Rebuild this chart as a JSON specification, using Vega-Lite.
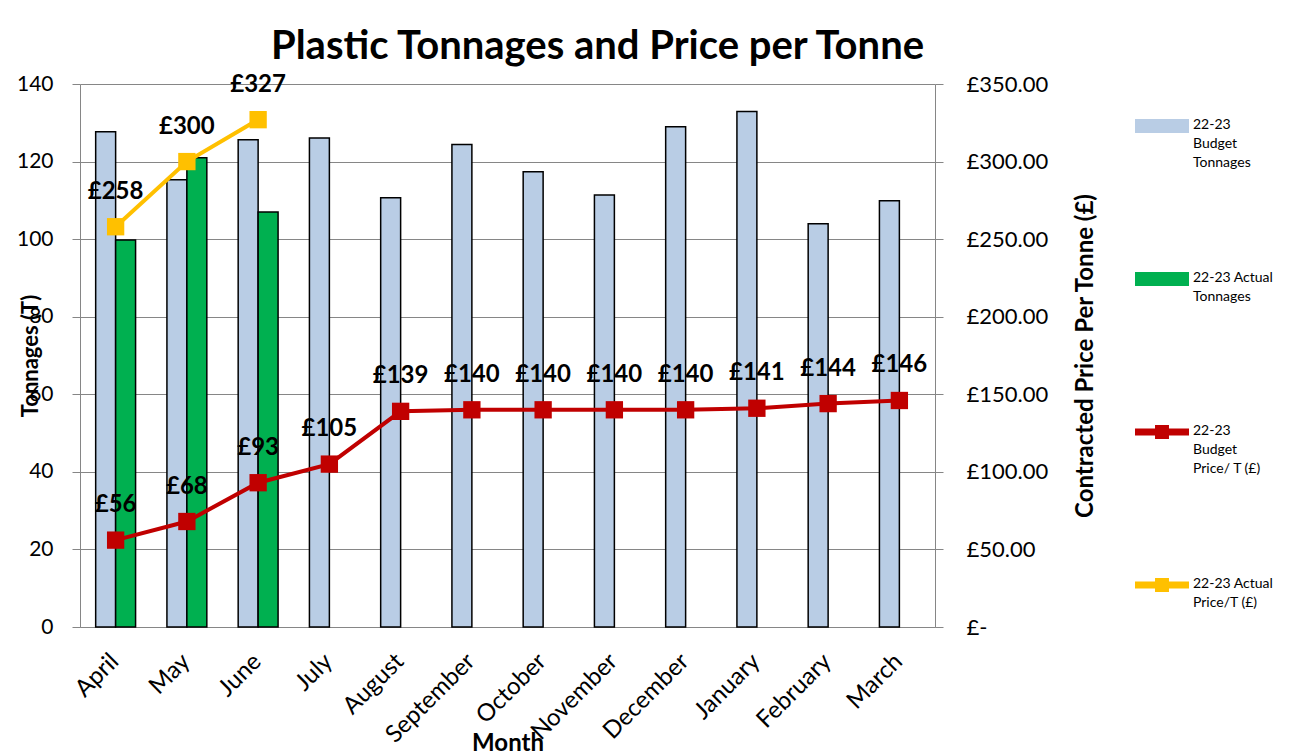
{
  "$schema": "https://vega.github.io/schema/vega-lite/v6.json",
  "width": 855,
  "height": 543,
  "autosize": {"type": "none"},
  "padding": {"left": 80, "top": 84, "right": 358, "bottom": 129},
  "background": "white",
  "config": {
    "font": "Lato",
    "view": {"stroke": null},
    "locale": {"number": {"decimal": ".", "thousands": ",", "grouping": [3], "currency": ["£", ""]}},
    "axis": {"labelColor": "black", "titleColor": "black", "domainColor": "#868686", "tickColor": "#868686", "gridColor": "#868686", "labelFont": "Lato", "titleFont": "Lato"}
  },
  "title": {"text": "Plastic Tonnages and Price per Tonne", "fontSize": 40, "fontWeight": "bold", "font": "Lato", "anchor": "middle", "dx": 90, "dy": 48, "offset": 22, "baseline": "alphabetic", "color": "black"},
  "datasets": {
    "tonnes": [
      {"month": "April", "series": "22-23 Budget Tonnages", "value": 127.7},
      {"month": "May", "series": "22-23 Budget Tonnages", "value": 115.3},
      {"month": "June", "series": "22-23 Budget Tonnages", "value": 125.6},
      {"month": "July", "series": "22-23 Budget Tonnages", "value": 126.1},
      {"month": "August", "series": "22-23 Budget Tonnages", "value": 110.7},
      {"month": "September", "series": "22-23 Budget Tonnages", "value": 124.4},
      {"month": "October", "series": "22-23 Budget Tonnages", "value": 117.4},
      {"month": "November", "series": "22-23 Budget Tonnages", "value": 111.4},
      {"month": "December", "series": "22-23 Budget Tonnages", "value": 129.0},
      {"month": "January", "series": "22-23 Budget Tonnages", "value": 132.9},
      {"month": "February", "series": "22-23 Budget Tonnages", "value": 104.0},
      {"month": "March", "series": "22-23 Budget Tonnages", "value": 109.9},
      {"month": "April", "series": "22-23 Actual Tonnages", "value": 99.8},
      {"month": "May", "series": "22-23 Actual Tonnages", "value": 121.0},
      {"month": "June", "series": "22-23 Actual Tonnages", "value": 107.0}
    ],
    "prices": [
      {"month": "April", "series": "22-23 Budget Price/ T (£)", "value": 56},
      {"month": "May", "series": "22-23 Budget Price/ T (£)", "value": 68},
      {"month": "June", "series": "22-23 Budget Price/ T (£)", "value": 93},
      {"month": "July", "series": "22-23 Budget Price/ T (£)", "value": 105},
      {"month": "August", "series": "22-23 Budget Price/ T (£)", "value": 139},
      {"month": "September", "series": "22-23 Budget Price/ T (£)", "value": 140},
      {"month": "October", "series": "22-23 Budget Price/ T (£)", "value": 140},
      {"month": "November", "series": "22-23 Budget Price/ T (£)", "value": 140},
      {"month": "December", "series": "22-23 Budget Price/ T (£)", "value": 140},
      {"month": "January", "series": "22-23 Budget Price/ T (£)", "value": 141},
      {"month": "February", "series": "22-23 Budget Price/ T (£)", "value": 144},
      {"month": "March", "series": "22-23 Budget Price/ T (£)", "value": 146},
      {"month": "April", "series": "22-23 Actual Price/T (£)", "value": 258},
      {"month": "May", "series": "22-23 Actual Price/T (£)", "value": 300},
      {"month": "June", "series": "22-23 Actual Price/T (£)", "value": 327}
    ]
  },
  "layer": [
    {
      "data": {"name": "tonnes"},
      "mark": {"type": "bar", "stroke": "black", "strokeWidth": 1.5},
      "encoding": {
        "x": {
          "field": "month", "type": "nominal",
          "sort": ["April", "May", "June", "July", "August", "September", "October", "November", "December", "January", "February", "March"],
          "scale": {"paddingInner": 0.44, "paddingOuter": 0.22},
          "axis": {"labelAngle": -45, "labelFontSize": 24, "ticks": false, "grid": false, "domainColor": "#868686", "title": "Month", "titleFontSize": 24, "titleFontWeight": "bold", "titleY": 116, "titleBaseline": "middle", "labelPadding": 22, "labelOffset": -9}
        },
        "xOffset": {
          "field": "series", "type": "nominal",
          "scale": {"domain": ["22-23 Budget Tonnages", "22-23 Actual Tonnages"], "paddingInner": 0, "paddingOuter": 0}
        },
        "y": {
          "field": "value", "type": "quantitative",
          "scale": {"domain": [0, 140], "nice": false},
          "axis": {"values": [0, 20, 40, 60, 80, 100, 120, 140], "grid": true, "tickSize": 8, "labelPadding": 19, "labelFontSize": 21, "title": "Tonnages (T)", "titleFontSize": 22, "titleFontWeight": "bold", "titleX": -50, "titleBaseline": "middle"}
        },
        "color": {
          "field": "series", "type": "nominal",
          "scale": {
            "domain": ["22-23 Budget Tonnages", "22-23 Actual Tonnages", "22-23 Budget Price/ T (£)", "22-23 Actual Price/T (£)"],
            "range": ["#B9CDE5", "#00B050", "#C00000", "#FFC000"]
          },
          "legend": {
            "orient": "none", "legendX": 1055, "legendY": 15, "title": null,
            "labelFontSize": 14, "labelFont": "Lato", "labelColor": "black", "labelLimit": 300,
            "symbolSize": 2704, "rowPadding": 82, "labelBaseline": "top", "symbolStrokeWidth": 2,
            "labelExpr": "datum.value == '22-23 Budget Tonnages' ? ['22-23', 'Budget', 'Tonnages'] : datum.value == '22-23 Actual Tonnages' ? ['22-23 Actual', 'Tonnages', ''] : datum.value == '22-23 Budget Price/ T (£)' ? ['22-23', 'Budget', 'Price/ T (£)'] : ['22-23 Actual', 'Price/T (£)', '']",
            "encode": {
              "symbols": {"update": {
                "shape": {"signal": "indexof(datum.value, 'Tonnages') >= 0 ? 'M-1,-0.23H1V0.23H-1Z' : 'M-1,-0.1H-0.23V-0.23H0.23V-0.1H1V0.1H0.23V0.23H-0.23V0.1H-1Z'"},
                "fill": {"scale": "color", "field": "value"},
                "stroke": {"signal": "indexof(datum.value, 'Tonnages') >= 0 ? 'black' : 'transparent'"},
                "strokeWidth": {"value": 2},
                "opacity": {"value": 1},
                "fillOpacity": {"value": 1}
              }},
              "labels": {"update": {"lineHeight": {"value": 19}, "dy": {"value": -8}}}
            }
          }
        }
      }
    },
    {
      "data": {"name": "prices"},
      "encoding": {
        "x": {"field": "month", "type": "nominal", "sort": ["April", "May", "June", "July", "August", "September", "October", "November", "December", "January", "February", "March"]},
        "y": {
          "field": "value", "type": "quantitative",
          "scale": {"domain": [0, 350], "nice": false},
          "axis": {"orient": "right", "values": [0, 50, 100, 150, 200, 250, 300, 350], "grid": false, "tickSize": 8, "labelPadding": 23, "labelFontSize": 22, "format": "$.2f", "labelExpr": "datum.value == 0 ? '£-' : datum.label", "title": "Contracted Price Per Tonne (£)", "titleFontSize": 24, "titleFontWeight": "bold", "titleAngle": 270, "titleX": 150, "titleBaseline": "middle"}
        }
      },
      "layer": [
        {
          "mark": {"type": "line", "strokeWidth": 4, "point": {"shape": "square", "size": 300, "filled": true}},
          "encoding": {"color": {
            "field": "series", "type": "nominal",
            "legend": {
              "orient": "none", "legendX": 1055, "legendY": 15, "title": null,
              "labelFontSize": 14, "labelFont": "Lato", "labelColor": "black", "labelLimit": 300,
              "symbolSize": 2704, "rowPadding": 82, "labelBaseline": "top", "symbolStrokeWidth": 2,
              "labelExpr": "datum.value == '22-23 Budget Tonnages' ? ['22-23', 'Budget', 'Tonnages'] : datum.value == '22-23 Actual Tonnages' ? ['22-23 Actual', 'Tonnages', ''] : datum.value == '22-23 Budget Price/ T (£)' ? ['22-23', 'Budget', 'Price/ T (£)'] : ['22-23 Actual', 'Price/T (£)', '']",
              "encode": {
                "symbols": {"update": {
                  "shape": {"signal": "indexof(datum.value, 'Tonnages') >= 0 ? 'M-1,-0.23H1V0.23H-1Z' : 'M-1,-0.1H-0.23V-0.23H0.23V-0.1H1V0.1H0.23V0.23H-0.23V0.1H-1Z'"},
                  "fill": {"scale": "color", "field": "value"},
                  "stroke": {"signal": "indexof(datum.value, 'Tonnages') >= 0 ? 'black' : 'transparent'"},
                  "strokeWidth": {"value": 2},
                  "opacity": {"value": 1},
                  "fillOpacity": {"value": 1}
                }},
                "labels": {"update": {"lineHeight": {"value": 19}, "dy": {"value": -8}}}
              }
            }
          }}
        },
        {
          "mark": {"type": "text", "dy": -35, "fontSize": 24, "fontWeight": "bold", "color": "black", "font": "Lato"},
          "encoding": {"text": {"field": "value", "type": "quantitative", "format": "$.0f"}}
        }
      ]
    }
  ],
  "resolve": {"scale": {"y": "independent"}}
}
